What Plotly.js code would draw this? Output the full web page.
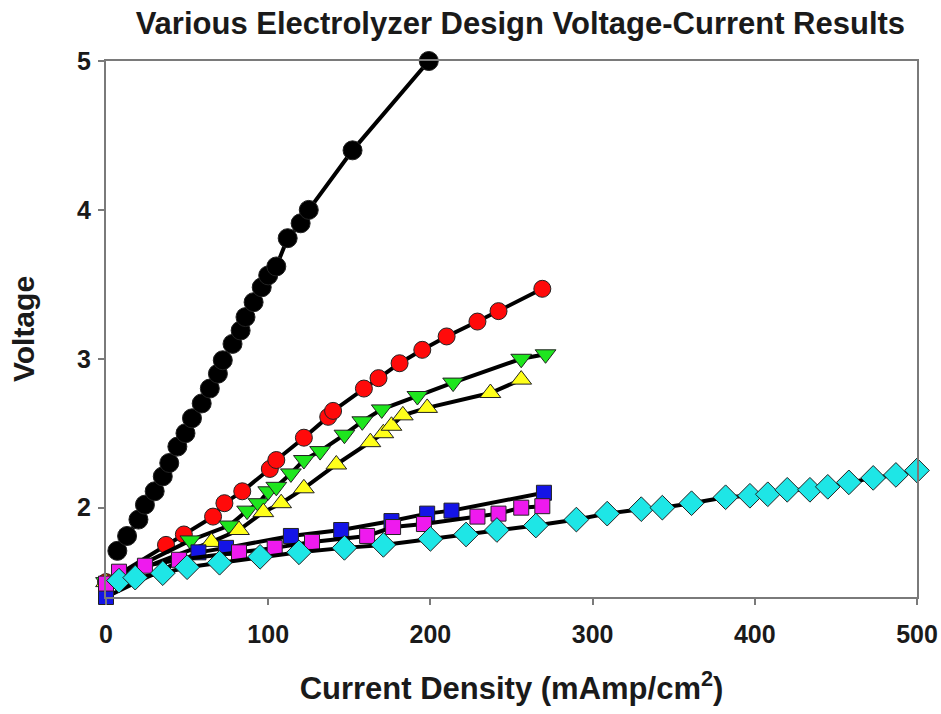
<!DOCTYPE html>
<html>
<head>
<meta charset="utf-8">
<script src="https://cdn.plot.ly/plotly-3.0.1.min.js"></script>
<style>html,body{margin:0;padding:0;background:#fff;}#chart{width:941px;height:714px;}</style>
</head>
<body>
<div id="chart"></div>
<script>
// Series data (current density mA/cm2, voltage)
const blackX = [7,13,20,24,30,35,39,44,49,53,59,64,69,72,78,83,86,91,96,100,105,112,120,125,152,199];
const blackY = [1.71,1.81,1.92,2.02,2.11,2.21,2.30,2.41,2.50,2.60,2.70,2.80,2.90,2.99,3.10,3.19,3.28,3.38,3.48,3.56,3.62,3.81,3.91,4.00,4.40,5.00];

const redX = [0,37,48,66,73,84,101,105,122,137,140,159,168,181,195,210,229,242,269];
const redY = [1.50,1.75,1.82,1.94,2.03,2.11,2.26,2.32,2.47,2.61,2.65,2.80,2.87,2.97,3.06,3.15,3.25,3.32,3.47];

const greenX = [0,52,76,87,94,100,105,114,122,132,147,158,170,192,214,256,271];
const greenY = [1.50,1.78,1.88,1.98,2.03,2.11,2.14,2.23,2.32,2.38,2.49,2.58,2.66,2.75,2.84,3.00,3.03];

const yellowX = [0,65,82,97,108,122,142,163,171,176,183,198,237,256];
const yellowY = [1.50,1.77,1.85,1.97,2.03,2.13,2.29,2.44,2.50,2.55,2.62,2.67,2.77,2.86];

const blueX = [0,57,74,114,145,176,198,213,270];
const blueY = [1.40,1.70,1.73,1.81,1.85,1.91,1.96,1.98,2.10];

const magentaX = [0,8,24,45,82,104,127,161,177,196,229,242,256,269];
const magentaY = [1.49,1.57,1.61,1.65,1.70,1.73,1.77,1.81,1.87,1.89,1.94,1.96,2.00,2.01];

const cyanX = [8,18,35,50,70,95,119,147,171,200,222,241,265,290,309,330,343,361,382,397,408,420,434,445,458,473,487,500];
const cyanY = [1.51,1.53,1.56,1.60,1.63,1.67,1.70,1.73,1.75,1.79,1.82,1.85,1.88,1.92,1.96,1.99,2.00,2.03,2.07,2.08,2.09,2.12,2.12,2.14,2.17,2.20,2.22,2.25];

const xTicks = [0,100,200,300,400,500];
const yTicks = [2,3,4,5];

function series(x, y, color, symbol, size) {
  return {
    x: x, y: y, type: 'scatter', mode: 'lines+markers',
    line: {color: '#000', width: 4},
    marker: {color: color, symbol: symbol, size: size, line: {color: '#222', width: 1}},
    cliponaxis: false, showlegend: false, hoverinfo: 'skip'
  };
}

const data = [
  series(blackX, blackY, '#000000', 'circle', 19),
  series(redX, redY, '#ff0a0a', 'circle', 17),
  series(greenX, greenY, '#1ee61e', 'triangle-down', 18),
  series(yellowX, yellowY, '#ffff1a', 'triangle-up', 18),
  series(blueX, blueY, '#1414e6', 'square', 15),
  series(magentaX, magentaY, '#ee1aee', 'square', 15),
  series(cyanX, cyanY, '#1ee6e6', 'diamond', 19)
];

const FONT = 'Liberation Sans, Arial, sans-serif';
const layout = {
  width: 941, height: 714,
  paper_bgcolor: '#fff', plot_bgcolor: '#fff',
  margin: {l: 106, r: 24, t: 61, b: 117},
  title: {
    text: '<b>Various Electrolyzer Design Voltage-Current Results</b>',
    font: {family: FONT, size: 31, color: '#1a1a1a'},
    xref: 'container', x: 0.553, xanchor: 'center',
    yref: 'container', y: 0.968, yanchor: 'middle'
  },
  xaxis: {
    range: [0, 500], tickvals: xTicks, ticktext: xTicks.map(String),
    showgrid: false, zeroline: false,
    showline: true, linecolor: '#7a7a7a', linewidth: 2, mirror: true,
    ticks: 'outside', ticklen: 6, tickwidth: 2, tickcolor: '#7a7a7a',
    tickfont: {family: FONT, size: 25, color: '#1a1a1a', weight: 'bold'},
    ticklabelstandoff: 8,
    title: {text: '<b>Current Density (mAmp/cm<sup>2</sup>)</b>', font: {family: FONT, size: 31, color: '#1a1a1a'}, standoff: 30}
  },
  yaxis: {
    range: [1.4, 5], tickvals: yTicks, ticktext: yTicks.map(String),
    showgrid: false, zeroline: false,
    showline: true, linecolor: '#7a7a7a', linewidth: 2, mirror: true,
    ticks: 'outside', ticklen: 6, tickwidth: 2, tickcolor: '#7a7a7a',
    tickfont: {family: FONT, size: 25, color: '#1a1a1a', weight: 'bold'},
    ticklabelstandoff: 2,
    title: {text: '<b>Voltage</b>', font: {family: FONT, size: 30, color: '#1a1a1a'}, standoff: 34}
  }
};

Plotly.newPlot('chart', data, layout, {staticPlot: true, displayModeBar: false});
</script>
</body>
</html>
